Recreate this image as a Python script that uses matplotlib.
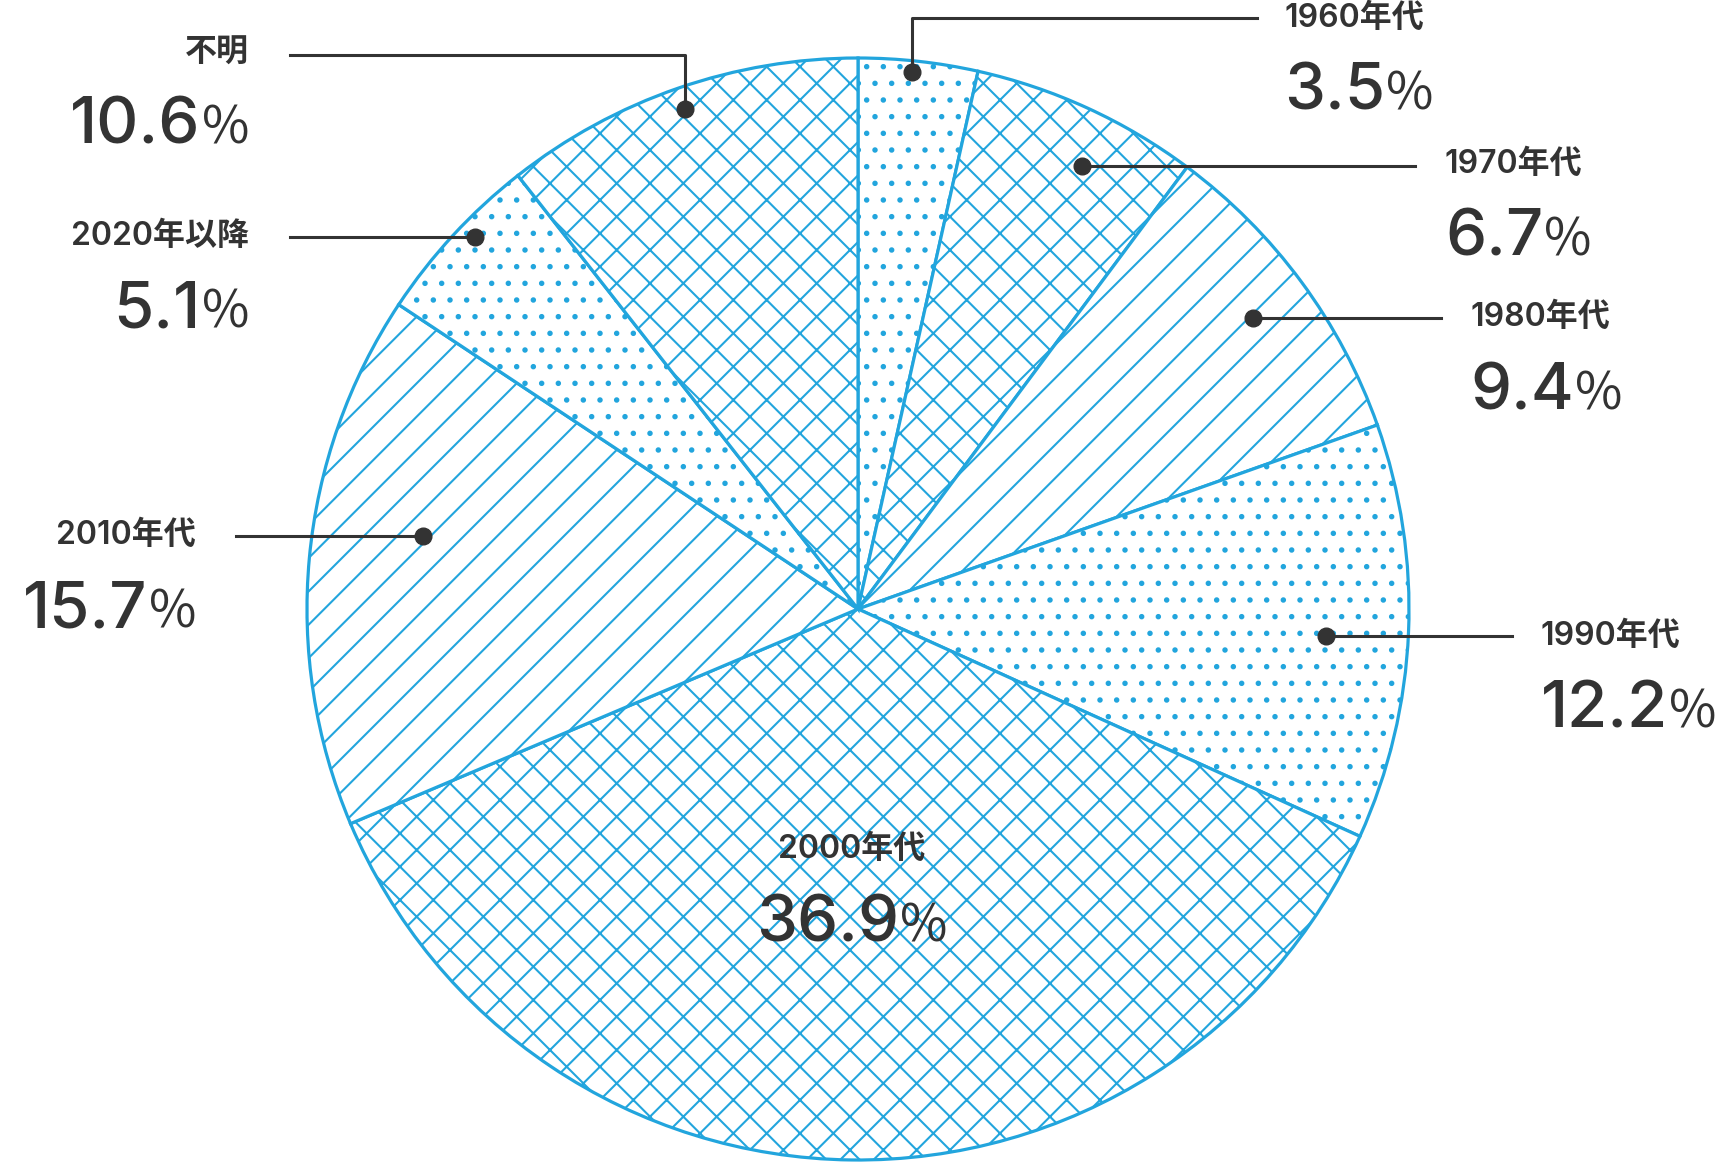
import numpy as np
import matplotlib
matplotlib.use('Agg')
import matplotlib.pyplot as plt

plt.rcParams['font.family'] = ['Inter', 'Noto Sans CJK JP', 'DejaVu Sans']
plt.rcParams['hatch.linewidth'] = 1.5

# データ
labels = ['1960年代', '1970年代', '1980年代', '1990年代', '2000年代', '2010年代', '2020年以降', '不明']
values = [3.5, 6.7, 9.4, 12.2, 36.9, 15.7, 5.1, 10.6]
pct_text = ['3.5', '6.7', '9.4', '12.2', '36.9', '15.7', '5.1', '10.6']
hatches = ['.', 'x', '/', '.', 'x', '/', '.', 'x']

# レイアウト (ピクセル, 上原点)
W, H = 1736, 1166
cx, cy, R = 858, 609, 551
dot_r = [0.98, 0.90, 0.89, 0.85, None, 0.80, 0.97, 0.96]
dot_a = [0.46, 0.59, 0.50, 0.52, None, 0.576, 0.58, 0.50]  # 扇形内の位置
elbow_y = [18, None, None, None, None, None, None, 55]
line_end = [1257, 1415, 1441, 1512, None, 236, 290, 290]
text_x = [1284, 1445, 1470, 1541, 852, 196, 249, 249]
text_ha = ['left', 'left', 'left', 'left', 'center', 'right', 'right', 'right']
lab_y = [18, 164, 317, 636, 849, 535, 237, 53]
pct_y = [86, 232, 385, 704, 917, 603, 304, 120]

blue = '#22a5dd'
dark = '#333333'

fig = plt.figure(figsize=(W / 100, H / 100), dpi=100)
ax = fig.add_axes([0, 0, 1, 1])
wedges, _ = ax.pie(values, startangle=90, counterclock=False, center=(cx, H - cy), radius=R,
                   hatch=hatches,
                   wedgeprops=dict(facecolor='white', edgecolor=blue, linewidth=2.3))
ax.set_xlim(0, W)
ax.set_ylim(0, H)
ax.set_aspect('equal')
ax.set_axis_off()

fig.canvas.draw()
renderer = fig.canvas.get_renderer()


def pct_label(x, y, num, ha):
    # 数字と小さい%を並べる
    t1 = ax.text(0, y, num, fontsize=47, color=dark, ha='left', va='baseline', fontweight='medium')
    t2 = ax.text(0, y, '%', fontsize=37, color=dark, ha='left', va='baseline',
                 family=['Noto Sans CJK JP', 'DejaVu Sans'])
    w1 = t1.get_window_extent(renderer).width
    w2 = t2.get_window_extent(renderer).width
    gap = 1
    total = w1 + gap + w2
    if ha == 'left':
        x0 = x
    elif ha == 'right':
        x0 = x - total
    else:
        x0 = x - total / 2
    t1.set_x(x0)
    t2.set_x(x0 + w1 + gap)


for i, w in enumerate(wedges):
    if dot_r[i] is not None:
        th = np.deg2rad(w.theta1 + (w.theta2 - w.theta1) * (1 - dot_a[i]))
        dx = cx + R * dot_r[i] * np.cos(th)
        dy = (H - cy) + R * dot_r[i] * np.sin(th)
        if elbow_y[i] is not None:
            ly = H - elbow_y[i]
            ax.plot([dx, dx, line_end[i]], [dy, ly, ly], color=dark, lw=2.2, zorder=5)
        else:
            ax.plot([dx, line_end[i]], [dy, dy], color=dark, lw=2.2, zorder=5)
        ax.plot(dx, dy, 'o', color=dark, markersize=12, zorder=6)
    ax.text(text_x[i], H - lab_y[i], labels[i], fontsize=23, color=dark,
            ha=text_ha[i], va='center', fontweight='semibold')
    pct_label(text_x[i], H - pct_y[i] - 24, pct_text[i], text_ha[i])

fig.savefig('out.png', dpi=100)
